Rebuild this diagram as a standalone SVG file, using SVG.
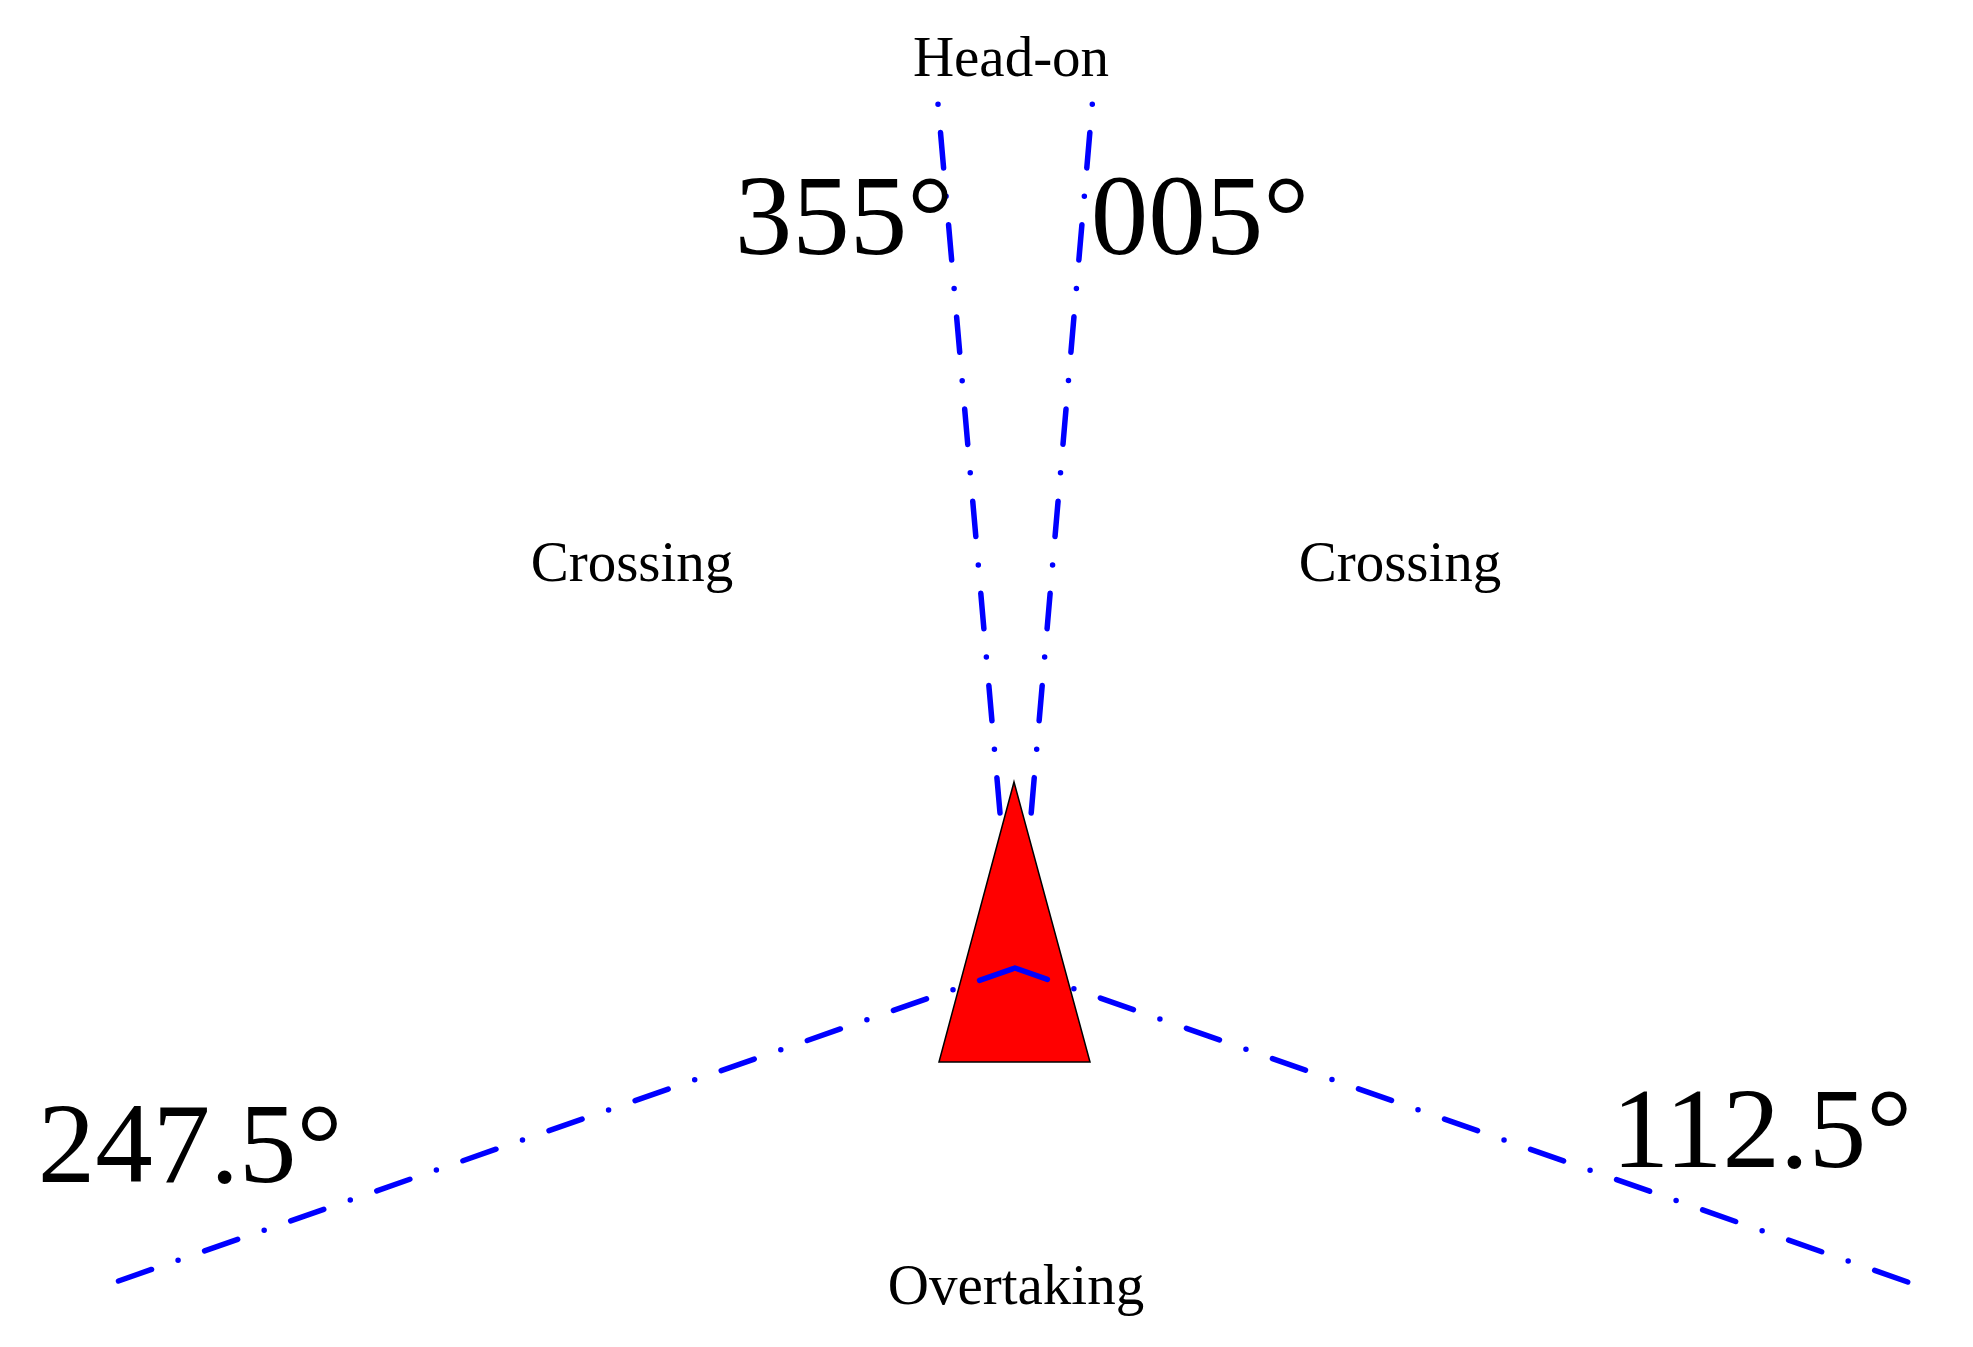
<svg xmlns="http://www.w3.org/2000/svg" width="1973" height="1347" viewBox="0 0 1973 1347">
<style>
.bg{fill:#ffffff}
.lbl{font-family:"Liberation Serif","Times New Roman",serif;fill:#000000;text-anchor:middle}
.sm{font-size:57px}
.lg{font-size:115px}
.sec{fill:none;stroke:#0000ff;stroke-width:5.5;stroke-linecap:round;stroke-linejoin:round}
.obl{stroke-dasharray:35 28.1 0 28.1}
.hd{stroke-dasharray:35.5 28.5 0 28.5}
</style>
<rect class="bg" x="0" y="0" width="1973" height="1347"/>
<g id="ship">
<polygon points="1014,782 1090,1062 939,1062" fill="#ff0000" stroke="#000000" stroke-width="1.5"/>
</g>
<g id="connectors">
<path class="sec hd" d="M1000,813 L938,104"/>
<path class="sec hd" d="M1031.2,813 L1092.3,104"/>
<path class="sec obl" d="M118.5,1281 L1015,968"/>
<path class="sec obl" d="M1907.7,1282 L1015,968"/>
</g>
<g id="label-headon"><text class="lbl sm" x="1011" y="76">Head-on</text></g>
<g id="label-355"><text class="lbl lg" x="844" y="254">355°</text></g>
<g id="label-005"><text class="lbl lg" x="1200" y="254">005°</text></g>
<g id="label-crossing-left"><text class="lbl sm" x="632" y="581">Crossing</text></g>
<g id="label-crossing-right"><text class="lbl sm" x="1400" y="581">Crossing</text></g>
<g id="label-247"><text class="lbl lg" x="190" y="1182">247.5°</text></g>
<g id="label-112"><text class="lbl lg" x="1762" y="1167">112.5°</text></g>
<g id="label-overtaking"><text class="lbl sm" x="1016" y="1304">Overtaking</text></g>
</svg>
